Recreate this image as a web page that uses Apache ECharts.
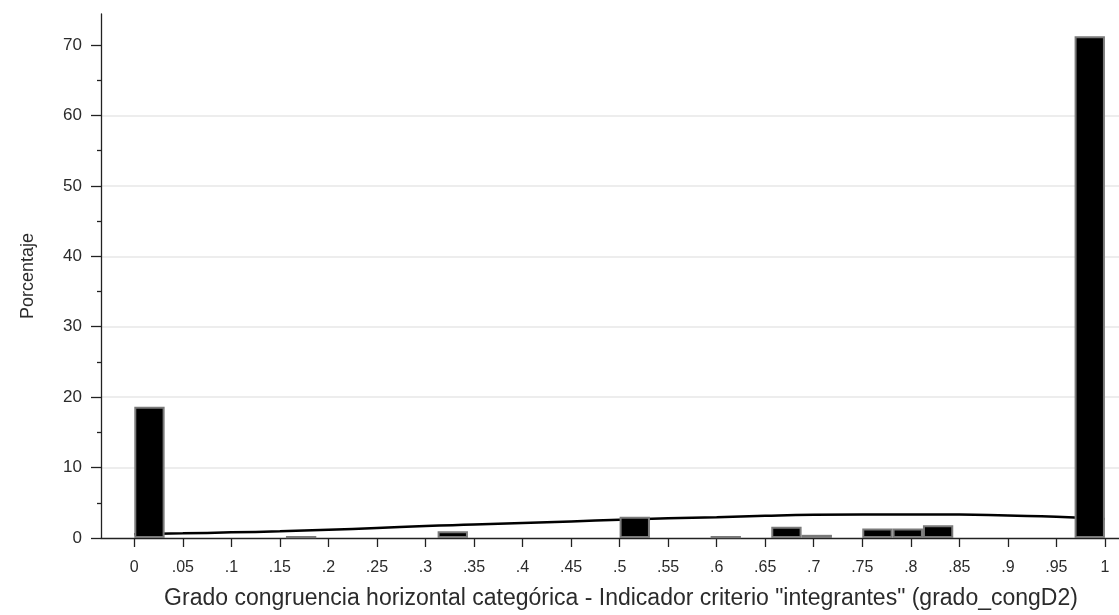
<!DOCTYPE html>
<html>
<head>
<meta charset="utf-8">
<script src="https://cdn.jsdelivr.net/npm/echarts@6/dist/echarts.min.js"></script>
<style>
  html, body { margin: 0; padding: 0; background: #fff; }
  #chart { width: 1119px; height: 615px; }
</style>
</head>
<body>
<div id="chart"></div>
<script>
// Histogram bins (lower edge of each bin, width 1/32) and their percentages
const binWidth = 0.03125;
const binStarts = [0, 0.15625, 0.3125, 0.5, 0.59375, 0.65625, 0.6875, 0.75, 0.78125, 0.8125, 0.96875];
const binPercents = [18.65, 0.25, 0.95, 3.0, 0.25, 1.6, 0.45, 1.35, 1.35, 1.8, 71.25];

// Fitted normal density, scaled to percent
const curveX = [0, 0.05, 0.1, 0.15, 0.2, 0.25, 0.3, 0.35, 0.4, 0.45, 0.5, 0.55, 0.6, 0.65, 0.7, 0.75, 0.8, 0.85, 0.9, 0.95, 1.0];
const curveY = [0.55, 0.66, 0.8, 0.95, 1.17, 1.41, 1.7, 1.9, 2.12, 2.35, 2.6, 2.8, 2.95, 3.15, 3.3, 3.35, 3.35, 3.33, 3.18, 3.02, 2.7];

// Axis ticks
const xTicks = [0, 0.05, 0.1, 0.15, 0.2, 0.25, 0.3, 0.35, 0.4, 0.45, 0.5, 0.55, 0.6, 0.65, 0.7, 0.75, 0.8, 0.85, 0.9, 0.95, 1];
const yTicks = [0, 10, 20, 30, 40, 50, 60, 70];
const yMinorTicks = [5, 15, 25, 35, 45, 55, 65];

const xTitle = 'Grado congruencia horizontal categórica - Indicador criterio "integrantes" (grado_congD2)';
const yTitle = 'Porcentaje';

const fontFamily = 'Liberation Sans, Arial, sans-serif';
const textColor = '#2b2b2b';
const axisColor = '#222';

const chart = echarts.init(document.getElementById('chart'));

const barData = binStarts.map((s, i) => [s, s + binWidth, binPercents[i]]);
const curveData = curveX.map((x, i) => [x, curveY[i]]);

// Stata-style tick labels: ".05" rather than "0.05"
function fmtX(v) {
  if (v === 0) return '0';
  if (v === 1) return '1';
  return String(+v.toFixed(2)).replace(/^0/, '');
}

chart.setOption({
  animation: false,
  backgroundColor: '#fff',
  grid: { left: 101, right: 0, top: 14, bottom: 75, containLabel: false },
  xAxis: {
    type: 'value',
    min: -0.0343,
    max: 1.0145,
    name: xTitle,
    nameLocation: 'middle',
    nameGap: 49,
    nameTextStyle: { fontFamily, fontSize: 23, color: textColor, padding: [0, 0, 0, 22] },
    axisLine: { show: true, onZero: false, lineStyle: { color: axisColor, width: 1.3 } },
    axisTick: { show: true, length: 9, customValues: xTicks, lineStyle: { color: axisColor, width: 1.3 } },
    axisLabel: { customValues: xTicks, formatter: fmtX, fontFamily, fontSize: 16, color: textColor, margin: 22 },
    splitLine: { show: false }
  },
  yAxis: [
    {
      type: 'value',
      min: 0,
      max: 74.4,
      interval: 10,
      name: yTitle,
      nameLocation: 'middle',
      nameGap: 64,
      nameTextStyle: { fontFamily, fontSize: 18, color: textColor },
      axisLine: { show: true, onZero: false, lineStyle: { color: axisColor, width: 1.3 } },
      axisTick: { show: true, length: 10, customValues: yTicks, lineStyle: { color: axisColor, width: 1.3 } },
      axisLabel: { customValues: yTicks, fontFamily, fontSize: 17, color: textColor, margin: 19 },
      splitLine: { show: true, showMaxLine: false, showMinLine: false, lineStyle: { color: '#ededed', width: 2 } }
    },
    {
      type: 'value',
      min: 0,
      max: 74.4,
      position: 'left',
      axisLine: { show: false, onZero: false },
      axisTick: { show: true, length: 4, customValues: yMinorTicks, lineStyle: { color: axisColor, width: 1.3 } },
      axisLabel: { show: false },
      splitLine: { show: false }
    }
  ],
  series: [
    {
      type: 'line',
      data: curveData,
      smooth: true,
      showSymbol: false,
      z: 1,
      lineStyle: { color: '#000', width: 2.5 }
    },
    {
      type: 'custom',
      z: 2,
      data: barData,
      encode: { x: [0, 1], y: 2 },
      renderItem: function (params, api) {
        const p0 = api.coord([api.value(0), 0]);
        const p1 = api.coord([api.value(1), api.value(2)]);
        return {
          type: 'rect',
          shape: { x: p0[0] + 1, y: p1[1] + 1, width: p1[0] - p0[0] - 2, height: p0[1] - p1[1] - 2 },
          style: { fill: '#000', stroke: '#7a7a7a', lineWidth: 2 }
        };
      }
    }
  ]
});
</script>
</body>
</html>
